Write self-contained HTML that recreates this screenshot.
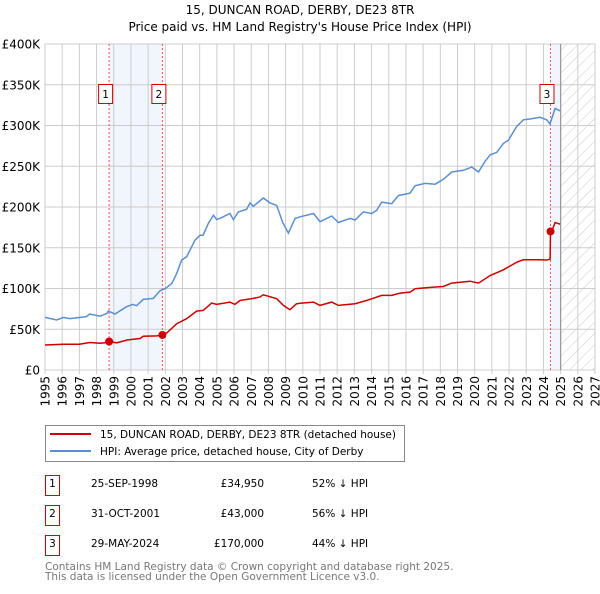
<!DOCTYPE html>
<html><head><meta charset="utf-8"><style>
body{margin:0;background:#fff;font-family:"DejaVu Sans","Liberation Sans",sans-serif;}
svg text{font-family:"DejaVu Sans","Liberation Sans",sans-serif;}
</style></head><body>
<svg id="c" width="600" height="590" viewBox="0 0 600 590" xmlns="http://www.w3.org/2000/svg">
<defs><pattern id="hatch" width="8" height="8" patternUnits="userSpaceOnUse" patternTransform="rotate(45)"><line x1="0" y1="0" x2="0" y2="8" stroke="#ccc" stroke-width="1"/></pattern></defs>
<text x="300" y="14" text-anchor="middle" font-size="12">15, DUNCAN ROAD, DERBY, DE23 8TR</text>
<text x="300" y="31" text-anchor="middle" font-size="12">Price paid vs. HM Land Registry's House Price Index (HPI)</text>
<g id="plot"></g>
<g>
<rect x="45.5" y="425.5" width="359" height="36" fill="#fff" stroke="#888"/>
<line x1="50" y1="434" x2="91" y2="434" stroke="#cc0000" stroke-width="2"/>
<text x="100" y="438" font-size="10.5">15, DUNCAN ROAD, DERBY, DE23 8TR (detached house)</text>
<line x1="50" y1="451" x2="91" y2="451" stroke="#5b8fd0" stroke-width="2"/>
<text x="100" y="455" font-size="10.5">HPI: Average price, detached house, City of Derby</text>
</g>
<g id="table" font-size="10.5"></g>
<text x="45" y="570" font-size="10.5" fill="#777">Contains HM Land Registry data © Crown copyright and database right 2025.</text>
<text x="45" y="580" font-size="10.5" fill="#777">This data is licensed under the Open Government Licence v3.0.</text>
</svg>
<script>
const yearTicks=[1995,1996,1997,1998,1999,2000,2001,2002,2003,2004,2005,2006,2007,2008,2009,2010,2011,2012,2013,2014,2015,2016,2017,2018,2019,2020,2021,2022,2023,2024,2025,2026,2027];
const yTicks=[0,50,100,150,200,250,300,350,400];
const yLabels=["£0","£50K","£100K","£150K","£200K","£250K","£300K","£350K","£400K"];
const hpiYears=[1995.0,1995.68,1996.07,1996.45,1997.4,1997.6,1998.2,1998.6,1998.68,1999.07,1999.75,2000.1,2000.33,2000.72,2001.3,2001.69,2002.0,2002.37,2002.66,2002.95,2003.24,2003.73,2004.02,2004.2,2004.5,2004.8,2004.99,2005.28,2005.76,2005.96,2006.25,2006.73,2006.93,2007.12,2007.7,2008.09,2008.48,2008.83,2009.16,2009.55,2009.84,2010.62,2011.0,2011.68,2012.07,2012.75,2013.04,2013.52,2014.01,2014.3,2014.59,2015.17,2015.56,2016.24,2016.53,2017.11,2017.7,2018.18,2018.66,2019.34,2019.83,2020.22,2020.6,2020.9,2021.28,2021.67,2021.96,2022.45,2022.83,2023.22,2023.8,2024.19,2024.38,2024.68,2024.97];
const hpiValues=[64.6,61.4,64.6,63.1,65.5,68.7,66,69.5,72.3,68.7,77.7,80.5,78.9,86.6,87.8,97.2,100,106,118.5,134.8,138.9,159.3,165.4,165.4,179.7,189.9,184.6,187,192,184.6,194,197,205,200.9,211,205,202,181,168,186,188,192,182,189,181,186,184,194,192,196,206,204,214,217,226,229,228,234,243,245,249,243,256,264,267,278,282,299,307,308,310,307,302,321,318];
const ppYears=[1995.0,1996.07,1997.0,1997.6,1998.2,1998.6,1998.73,1999.17,1999.75,2000.53,2000.72,2001.5,2001.83,2002.08,2002.66,2003.24,2003.82,2004.2,2004.7,2004.99,2005.76,2006.05,2006.35,2007.0,2007.5,2007.7,2008.48,2008.87,2009.25,2009.64,2009.84,2010.62,2011.0,2011.68,2012.07,2013.04,2013.72,2014.59,2015.17,2015.66,2016.24,2016.53,2017.6,2018.18,2018.66,2019.73,2020.22,2020.9,2021.67,2022.45,2022.83,2023.8,2024.19,2024.39,2024.41,2024.48,2024.68,2024.97];
const ppValues=[30.7,31.5,31.5,33.8,32.7,33.8,34.95,33.4,36.7,38.7,41.5,41.9,43,45.4,56.8,62.9,72.3,73.1,82.1,80.5,83.3,80.5,85.4,87.5,89.5,92.3,87.5,79.3,74,81.3,82,83.3,79.3,83.3,79.3,81.3,85.4,91.5,91.5,94.4,95.6,99.7,101.7,102.5,106.6,109,106.6,116,123,132.3,135.2,135.2,135,136,170,170,181,179];
const saleLabels=["1","2","3"];
const saleYears=[1998.73,2001.83,2024.41];
const saleValues=[34.95,43,170];
const saleDates=["25-SEP-1998","31-OCT-2001","29-MAY-2024"];
const salePrices=["£34,950","£43,000","£170,000"];
const saleDiffs=["52% ↓ HPI","56% ↓ HPI","44% ↓ HPI"];
const X0=45,X1=595,Y0=370,Y1=44;
const xs=y=>X0+(y-1995)/(2027-1995)*(X1-X0);
const ys=v=>Y0-v/400*(Y0-Y1);
const NS="http://www.w3.org/2000/svg";
const plot=document.getElementById('plot');
function mk(tag,at,parent){const e=document.createElementNS(NS,tag);for(const k in at)e.setAttribute(k,at[k]);(parent||plot).appendChild(e);return e;}
let r=mk('rect',{x:xs(saleYears[0]),y:Y1,width:xs(saleYears[1])-xs(saleYears[0]),height:Y0-Y1,fill:'#eef3fc',opacity:0.8});


r=mk('rect',{x:xs(saleYears[2]),y:Y1,width:xs(2025)-xs(saleYears[2]),height:Y0-Y1,fill:'#eef3fc',opacity:0.8});


r=mk('rect',{x:xs(2025),y:Y1,width:X1-xs(2025),height:Y0-Y1,fill:'url(#hatch)'});


yearTicks.forEach(t=>{const l=mk('line',{x1:xs(t),x2:xs(t),y1:Y1,y2:Y0+4,stroke:'#ccc','stroke-width':1});


const tx=mk('text',{x:0,y:0,'font-size':12,'text-anchor':'end',transform:`translate(${xs(t)+4.5},${Y0+6}) rotate(-90)`});tx.textContent=t;

});
yTicks.forEach((t,i)=>{const l=mk('line',{x1:X0,x2:X1,y1:ys(t),y2:ys(t),stroke:'#ccc','stroke-width':1});


const tx=mk('text',{x:40,y:ys(t)+4.5,'font-size':12,'text-anchor':'end'});tx.textContent=yLabels[i];

});
const b=mk('line',{x1:xs(2025),x2:xs(2025),y1:Y1,y2:Y0,stroke:'#999','stroke-width':1.2});


saleYears.forEach((s,i)=>{const l=mk('line',{x1:xs(s),x2:xs(s),y1:Y1,y2:Y0,stroke:'#ee5555','stroke-width':1,'stroke-dasharray':'2,2'});

});
const pts=(xa,va)=>xa.map((x,i)=>xs(x).toFixed(1)+','+ys(va[i]).toFixed(1)).join(' ');
const h=mk('polyline',{points:pts(hpiYears,hpiValues),fill:'none',stroke:'#5b8fd0','stroke-width':1.5});


const p=mk('polyline',{points:pts(ppYears,ppValues),fill:'none',stroke:'#cc0000','stroke-width':1.5});


saleYears.forEach((s,i)=>{const d=mk('circle',{cx:xs(s),cy:ys(saleValues[i]),r:4,fill:'#cc0000'});


const g=mk('g',{});


mk('rect',{x:xs(s)-10.5,y:84.5,width:14,height:19,fill:'#fff',stroke:'#cc0000'},g);
const t=mk('text',{x:xs(s)-3.5,y:98,'font-size':10.5,'text-anchor':'middle'},g);t.textContent=saleLabels[i];});
const tb=document.getElementById('table');
saleLabels.forEach((lab,i)=>{const y=483+i*30;
const g=mk('g',{},tb);


mk('rect',{x:45.5,y:y-7.5,width:14,height:20,fill:'#fff',stroke:'#cc0000'},g);
let t=mk('text',{x:52.5,y:y+4,'text-anchor':'middle'},g);t.textContent=lab;
t=mk('text',{x:91,y:y+4},g);t.textContent=saleDates[i];
t=mk('text',{x:264,y:y+4,'text-anchor':'end'},g);t.textContent=salePrices[i];
t=mk('text',{x:312,y:y+4},g);t.textContent=saleDiffs[i];});
</script>
</body></html>
